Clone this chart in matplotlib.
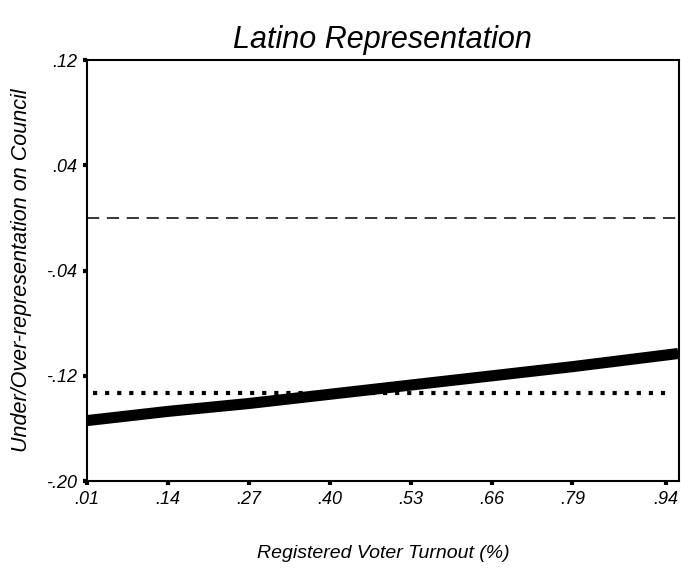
import matplotlib
matplotlib.use('Agg')
import matplotlib.pyplot as plt

plt.rcParams['font.family'] = ['Liberation Sans', 'DejaVu Sans']

# turnout values and predicted representation
turnout = [0.01, 0.14, 0.27, 0.40, 0.53, 0.66, 0.79, 0.96]
predicted = [-0.154, -0.147, -0.141, -0.134, -0.127, -0.120, -0.113, -0.103]
parity = 0.0
mean_rep = -0.133

xticks = [0.01, 0.14, 0.27, 0.40, 0.53, 0.66, 0.79, 0.94]
xtick_labels = ['.01', '.14', '.27', '.40', '.53', '.66', '.79', '.94']
yticks = [-0.20, -0.12, -0.04, 0.04, 0.12]
ytick_labels = ['-.20', '-.12', '-.04', '.04', '.12']

fig = plt.figure(figsize=(6.81, 5.68), dpi=100)
ax = fig.add_axes([0.1278, 0.153, 0.869, 0.741])

ax.plot(turnout, predicted, color='black', lw=8, solid_capstyle='butt')
ax.axhline(parity, color='black', lw=1.1, dashes=(8, 5))
ax.plot([0.02, 0.95], [mean_rep, mean_rep], color='black', lw=3,
        linestyle=(0, (1, 1.9)))

ax.set_xlim(0.01, 0.961)
ax.set_ylim(-0.20, 0.12)
ax.set_xticks(xticks)
ax.set_xticklabels(xtick_labels, style='italic', fontsize=13)
ax.set_yticks(yticks)
ax.set_yticklabels(ytick_labels, style='italic', fontsize=13)
ax.tick_params(length=3, width=3, pad=4)
for s in ax.spines.values():
    s.set_linewidth(1.5)

ax.set_title('Latino Representation', style='italic', fontsize=22, pad=9)
ax.set_xlabel('Registered Voter Turnout (%)', style='italic', fontsize=14, labelpad=27)
ax.set_ylabel('Under/Over-representation on Council', style='italic', fontsize=15.5, labelpad=10)

fig.savefig('out.png', dpi=100)
